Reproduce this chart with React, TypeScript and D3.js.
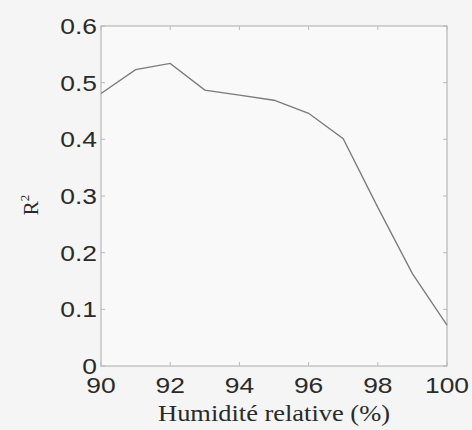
import React from "react";
import * as d3 from "d3";

const humidity = [90, 91, 92, 93, 94, 95, 96, 97, 98, 99, 100];
const r2 = [0.481, 0.523, 0.534, 0.487, 0.478, 0.469, 0.446, 0.401, 0.28, 0.163, 0.072];
const xTicks = [90, 92, 94, 96, 98, 100];
const yTicks = [0, 0.1, 0.2, 0.3, 0.4, 0.5, 0.6];

const W = 472;
const H = 430;
const M = { left: 101, right: 447, top: 26, bottom: 366 };

export default function App() {
  const x = d3.scaleLinear().domain([90, 100]).range([M.left, M.right]);
  const y = d3.scaleLinear().domain([0, 0.6]).range([M.bottom, M.top]);
  const line = d3
    .line<number>()
    .x((_, i) => x(humidity[i]))
    .y((d) => y(d));
  const sans = "'Liberation Sans', Arial, sans-serif";
  const serif = "'Liberation Serif', 'Times New Roman', serif";
  const frame = "#b8b8b8";
  const tickLen = 4;
  return (
    <svg
      width={W}
      height={H}
      style={{ position: "absolute", left: 0, top: 0 }}
    >
      <rect x={0} y={0} width={W} height={H} fill="#f5f5f5" />
      <rect
        x={M.left}
        y={M.top}
        width={M.right - M.left}
        height={M.bottom - M.top}
        fill="#f9f9f9"
        stroke={frame}
        strokeWidth={1.2}
      />
      {xTicks.map((t) => (
        <g key={"xt" + t}>
          <line x1={x(t)} x2={x(t)} y1={M.bottom} y2={M.bottom - tickLen} stroke={frame} />
          <line x1={x(t)} x2={x(t)} y1={M.top} y2={M.top + tickLen} stroke={frame} />
          <text
            transform={`translate(${x(t)},393) scale(1.2,1)`}
            textAnchor="middle"
            fontFamily={sans}
            fontSize={22}
            fill="#2a2a2a"
          >
            {t}
          </text>
        </g>
      ))}
      {yTicks.map((t) => (
        <g key={"yt" + t}>
          <line x1={M.left} x2={M.left + tickLen} y1={y(t)} y2={y(t)} stroke={frame} />
          <line x1={M.right} x2={M.right - tickLen} y1={y(t)} y2={y(t)} stroke={frame} />
          <text
            transform={`translate(97,${y(t) + 8}) scale(1.2,1)`}
            textAnchor="end"
            fontFamily={sans}
            fontSize={22}
            fill="#2a2a2a"
          >
            {d3.format("")(t)}
          </text>
        </g>
      ))}
      <path d={line(r2) || ""} fill="none" stroke="#7a7a7a" strokeWidth={1.3} />
      <text
        transform={`translate(274,421) scale(1.15,1)`}
        textAnchor="middle"
        fontFamily={serif}
        fontSize={23}
        fill="#2a2a2a"
      >
        Humidité relative (%)
      </text>
      <text
        transform={`translate(38,205) rotate(-90)`}
        textAnchor="middle"
        fontFamily={serif}
        fontSize={21}
        fill="#2a2a2a"
      >
        R
        <tspan fontSize={13} dy={-9}>
          2
        </tspan>
      </text>
    </svg>
  );
}
